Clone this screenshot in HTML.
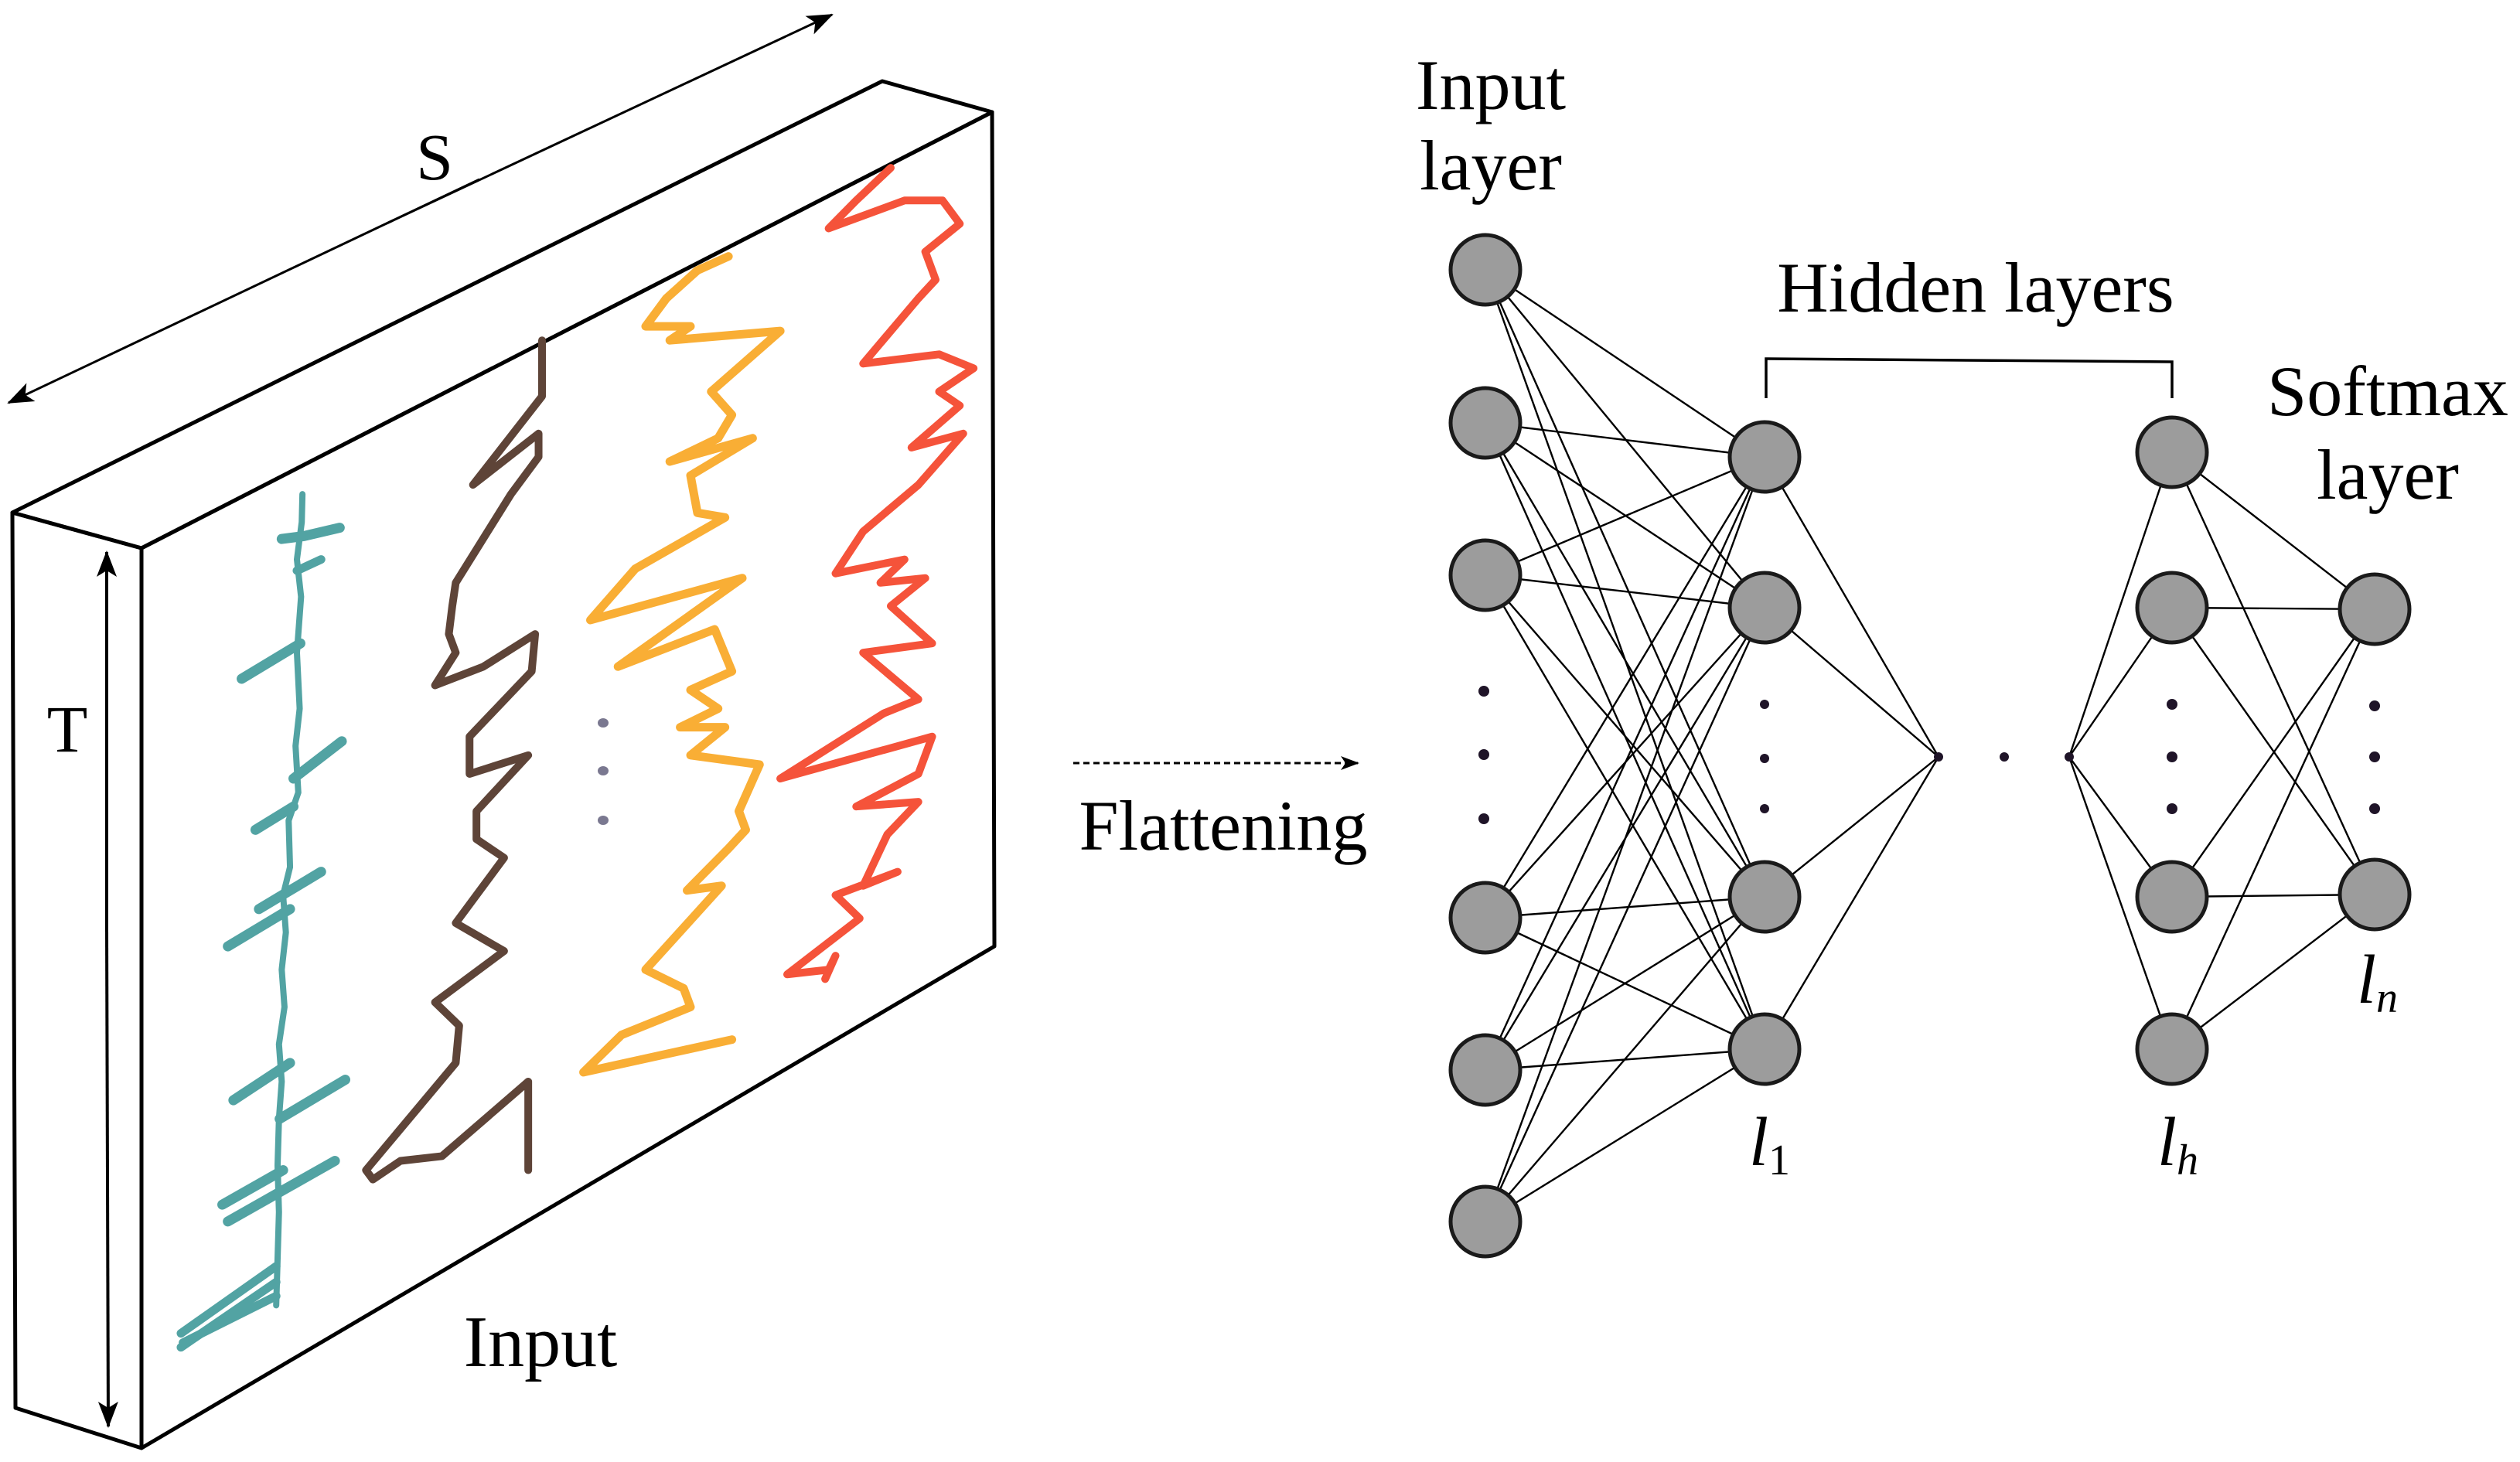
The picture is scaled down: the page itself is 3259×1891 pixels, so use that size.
<!DOCTYPE html>
<html><head><meta charset="utf-8"><style>
html,body{margin:0;padding:0;background:#fff;}
svg{display:block;}
text{font-family:"Liberation Serif",serif;fill:#000;}
</style></head><body>
<svg width="3259" height="1891" viewBox="0 0 3259 1891" xmlns="http://www.w3.org/2000/svg">
<defs>
<marker id="ahb" markerWidth="34" markerHeight="26" refX="32" refY="13" orient="auto" markerUnits="userSpaceOnUse" viewBox="0 0 34 26">
<path d="M0,0 L34,13 L0,26 L8,13 Z" fill="#000"/></marker>
<marker id="ahs" markerWidth="24" markerHeight="18" refX="22" refY="9" orient="auto" markerUnits="userSpaceOnUse" viewBox="0 0 24 18">
<path d="M0,0 L24,9 L0,18 L6,9 Z" fill="#000"/></marker>
</defs>

<!-- Box -->
<g fill="none" stroke="#000" stroke-width="5" stroke-linejoin="round">
<polygon points="16,663 1141,105 1283,145 183,709"/>
<polygon points="16,663 183,709 183,1873 20,1821"/>
<polygon points="183,709 1283,145 1286,1224 183,1873"/>
</g>
<!-- S arrow -->
<line x1="620" y1="232" x2="11" y2="521" stroke="#000" stroke-width="3" marker-end="url(#ahb)"/>
<line x1="500" y1="289" x2="1076" y2="19" stroke="#000" stroke-width="3" marker-end="url(#ahb)"/>
<text x="562" y="232" font-size="86" text-anchor="middle">S</text>
<!-- T arrow -->
<line x1="138" y1="1200" x2="138" y2="714" stroke="#000" stroke-width="4" marker-end="url(#ahb)"/>
<line x1="138" y1="1200" x2="140" y2="1845" stroke="#000" stroke-width="4" marker-end="url(#ahb)"/>
<text x="87" y="972" font-size="86" text-anchor="middle">T</text>
<text x="699" y="1767" font-size="94" text-anchor="middle">Input</text>

<!-- series in zoom1 coords -->
<g transform="scale(0.893,1.206)" fill="none" stroke-linejoin="round" stroke-linecap="round">
<g stroke="#52a3a3">
<polyline vector-effect="non-scaling-stroke" stroke-width="8" points="438,530 437,560 430,600 436,640 430,700 434,760 428,800 432,850 418,880 420,930 410,960 414,1000 408,1040 412,1080 404,1120 408,1160 404,1200 402,1250 404,1300 400,1400"/>
<polyline vector-effect="non-scaling-stroke" stroke-width="13" points="408,578 440,575 492,566"/>
<polyline vector-effect="non-scaling-stroke" stroke-width="11" points="430,612 465,600"/>
<polyline vector-effect="non-scaling-stroke" stroke-width="13" points="350,728 435,690"/>
<polyline vector-effect="non-scaling-stroke" stroke-width="13" points="425,835 495,795"/>
<polyline vector-effect="non-scaling-stroke" stroke-width="13" points="370,890 425,865"/>
<polyline vector-effect="non-scaling-stroke" stroke-width="13" points="375,975 465,935"/>
<polyline vector-effect="non-scaling-stroke" stroke-width="13" points="330,1015 420,975"/>
<polyline vector-effect="non-scaling-stroke" stroke-width="13" points="338,1180 420,1140"/>
<polyline vector-effect="non-scaling-stroke" stroke-width="13" points="405,1200 500,1158"/>
<polyline vector-effect="non-scaling-stroke" stroke-width="13" points="322,1292 410,1255"/>
<polyline vector-effect="non-scaling-stroke" stroke-width="13" points="330,1310 485,1245"/>
<polyline vector-effect="non-scaling-stroke" stroke-width="11" points="262,1430 400,1358"/>
<polyline vector-effect="non-scaling-stroke" stroke-width="11" points="262,1445 400,1375"/>
<polyline vector-effect="non-scaling-stroke" stroke-width="11" points="265,1440 400,1390"/>
</g>
<polyline vector-effect="non-scaling-stroke" stroke="#5e4438" stroke-width="10" points="785,365 785,425 685,520 780,465 780,490 740,530 660,625 655,650 650,680 660,700 630,735 700,715 775,680 770,720 680,790 680,830 765,810 690,870 690,900 730,920 660,990 730,1020 630,1075 665,1100 660,1140 530,1255 540,1265 580,1245 640,1240 765,1160 765,1255"/>
<polyline vector-effect="non-scaling-stroke" stroke="#f9ae35" stroke-width="11" points="1055,275 1010,290 965,320 935,350 1000,350 970,365 1130,355 1030,420 1060,445 1040,470 970,495 1090,470 1000,510 1010,550 1050,555 920,610 855,665 1075,620 895,715 1035,675 1060,720 1000,740 1040,760 985,780 1050,780 1000,810 1100,820 1070,870 1080,890 1055,910 995,955 1045,950 935,1040 990,1060 1000,1080 900,1110 845,1150 1060,1115"/>
<polyline vector-effect="non-scaling-stroke" stroke="#f5533a" stroke-width="10" points="1290,180 1240,215 1200,245 1310,215 1365,215 1390,240 1340,270 1355,300 1330,320 1250,390 1360,380 1410,395 1360,420 1390,435 1320,480 1395,465 1330,520 1250,570 1210,615 1310,600 1275,625 1340,620 1290,650 1350,690 1250,700 1330,750 1280,765 1130,835 1350,790 1330,830 1240,865 1330,860 1285,895 1250,950 1300,935 1210,960 1245,985 1140,1045 1200,1040 1210,1025 1195,1050"/>
</g>
<g fill="#7a7890">
<ellipse cx="780" cy="935" rx="7" ry="6"/><ellipse cx="780" cy="997" rx="7" ry="6"/><ellipse cx="780" cy="1061" rx="7" ry="6"/>
</g>

<!-- Flattening -->
<line x1="1388" y1="987" x2="1756" y2="987" stroke="#000" stroke-width="3" stroke-dasharray="8,5" marker-end="url(#ahs)"/>
<text x="1582" y="1099" font-size="92" text-anchor="middle">Flattening</text>

<!-- Network edges -->
<g stroke="#000" stroke-width="2.4">
<line x1="1921" y1="349" x2="2282" y2="591"/><line x1="1921" y1="349" x2="2282" y2="786"/><line x1="1921" y1="349" x2="2282" y2="1160"/><line x1="1921" y1="349" x2="2282" y2="1357"/>
<line x1="1921" y1="547" x2="2282" y2="591"/><line x1="1921" y1="547" x2="2282" y2="786"/><line x1="1921" y1="547" x2="2282" y2="1160"/><line x1="1921" y1="547" x2="2282" y2="1357"/>
<line x1="1921" y1="744" x2="2282" y2="591"/><line x1="1921" y1="744" x2="2282" y2="786"/><line x1="1921" y1="744" x2="2282" y2="1160"/><line x1="1921" y1="744" x2="2282" y2="1357"/>
<line x1="1921" y1="1187" x2="2282" y2="591"/><line x1="1921" y1="1187" x2="2282" y2="786"/><line x1="1921" y1="1187" x2="2282" y2="1160"/><line x1="1921" y1="1187" x2="2282" y2="1357"/>
<line x1="1921" y1="1384" x2="2282" y2="591"/><line x1="1921" y1="1384" x2="2282" y2="786"/><line x1="1921" y1="1384" x2="2282" y2="1160"/><line x1="1921" y1="1384" x2="2282" y2="1357"/>
<line x1="1921" y1="1580" x2="2282" y2="591"/><line x1="1921" y1="1580" x2="2282" y2="786"/><line x1="1921" y1="1580" x2="2282" y2="1160"/><line x1="1921" y1="1580" x2="2282" y2="1357"/>
<line x1="2282" y1="591" x2="2507" y2="979"/><line x1="2282" y1="786" x2="2507" y2="979"/><line x1="2282" y1="1160" x2="2507" y2="979"/><line x1="2282" y1="1357" x2="2507" y2="979"/>
<line x1="2676" y1="979" x2="2809" y2="585"/><line x1="2676" y1="979" x2="2809" y2="786"/><line x1="2676" y1="979" x2="2809" y2="1160"/><line x1="2676" y1="979" x2="2809" y2="1357"/>
<line x1="2809" y1="585" x2="3071" y2="788"/><line x1="2809" y1="585" x2="3071" y2="1157"/>
<line x1="2809" y1="786" x2="3071" y2="788"/><line x1="2809" y1="786" x2="3071" y2="1157"/>
<line x1="2809" y1="1160" x2="3071" y2="788"/><line x1="2809" y1="1160" x2="3071" y2="1157"/>
<line x1="2809" y1="1357" x2="3071" y2="788"/><line x1="2809" y1="1357" x2="3071" y2="1157"/>
</g>
<!-- nodes -->
<g fill="#9c9c9c" stroke="#1a1a1a" stroke-width="5">
<ellipse cx="1921" cy="349" rx="45" ry="45"/><ellipse cx="1921" cy="547" rx="45" ry="45"/><ellipse cx="1921" cy="744" rx="45" ry="45"/>
<ellipse cx="1921" cy="1187" rx="45" ry="45"/><ellipse cx="1921" cy="1384" rx="45" ry="45"/><ellipse cx="1921" cy="1580" rx="45" ry="45"/>
<ellipse cx="2282" cy="591" rx="45" ry="45"/><ellipse cx="2282" cy="786" rx="45" ry="45"/><ellipse cx="2282" cy="1160" rx="45" ry="45"/><ellipse cx="2282" cy="1357" rx="45" ry="45"/>
<ellipse cx="2809" cy="585" rx="45" ry="45"/><ellipse cx="2809" cy="786" rx="45" ry="45"/><ellipse cx="2809" cy="1160" rx="45" ry="45"/><ellipse cx="2809" cy="1357" rx="45" ry="45"/>
<ellipse cx="3071" cy="788" rx="45" ry="45"/><ellipse cx="3071" cy="1157" rx="45" ry="45"/>
</g>
<g fill="#1f1428">
<circle cx="1919" cy="894" r="7"/><circle cx="1919" cy="976" r="7"/><circle cx="1919" cy="1059" r="7"/>
<circle cx="2282" cy="911" r="6"/><circle cx="2282" cy="981" r="6"/><circle cx="2282" cy="1046" r="6"/>
<circle cx="2507" cy="979" r="6"/><circle cx="2592" cy="979" r="6"/><circle cx="2676" cy="979" r="6"/>
<circle cx="2809" cy="911" r="7"/><circle cx="2809" cy="979" r="7"/><circle cx="2809" cy="1046" r="7"/>
<circle cx="3071" cy="913" r="7"/><circle cx="3071" cy="979" r="7"/><circle cx="3071" cy="1046" r="7"/>
</g>
<!-- bracket -->
<polyline points="2284,515 2284,464 2809,468 2809,515" fill="none" stroke="#000" stroke-width="3.5"/>
<!-- labels -->
<text x="1928" y="141" font-size="92" text-anchor="middle">Input</text>
<text x="1928" y="245" font-size="92" text-anchor="middle">layer</text>
<text x="2555" y="403" font-size="92" text-anchor="middle">Hidden layers</text>
<text x="3088" y="537" font-size="92" text-anchor="middle">Softmax</text>
<text x="3088" y="645" font-size="92" text-anchor="middle">layer</text>
<text x="2262" y="1507" font-size="90" font-style="italic">l<tspan font-size="56" font-style="normal" dy="12">1</tspan></text>
<text x="2790" y="1507" font-size="90" font-style="italic">l<tspan font-size="56" dy="12">h</tspan></text>
<text x="3048" y="1297" font-size="90" font-style="italic">l<tspan font-size="56" dy="12">n</tspan></text>
</svg>
</body></html>
